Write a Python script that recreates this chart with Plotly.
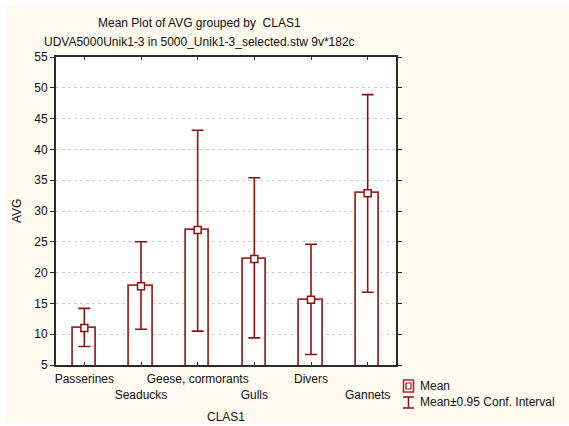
import plotly.graph_objects as go

categories = ["Passerines", "Seaducks", "Geese, cormorants", "Gulls", "Divers", "Gannets"]
means = [11.0, 17.8, 26.9, 22.2, 15.6, 32.9]
ci_lower = [8.0, 10.8, 10.5, 9.4, 6.7, 16.8]
ci_upper = [14.2, 25.0, 43.1, 35.4, 24.6, 48.9]
y_ticks = [5, 10, 15, 20, 25, 30, 35, 40, 45, 50, 55]

title_text = "Mean Plot of AVG grouped by  CLAS1"
subtitle_text = "UDVA5000Unik1-3 in 5000_Unik1-3_selected.stw 9v*182c"

W, H = 569, 426
ML, MR, MT, MB = 56, 173, 57, 61
PW = W - ML - MR
PH = H - MT - MB

def px(x):
    return (x - ML) / PW

def py(y):
    return (H - MB - y) / PH

DARK = "#8E1212"
EDGE = "#A42A2A"
FONT = "Liberation Sans, Arial, sans-serif"

xs = list(range(len(categories)))
ticktext = [c if i % 2 == 0 else "<br>" + c for i, c in enumerate(categories)]
err_plus = [u - m for u, m in zip(ci_upper, means)]
err_minus = [m - l for m, l in zip(means, ci_lower)]

fig = go.Figure()
fig.add_trace(go.Bar(
    x=xs, y=means, width=0.41,
    marker=dict(color="white", line=dict(color=EDGE, width=1.8)),
    showlegend=False, hoverinfo="skip",
))
fig.add_trace(go.Scatter(
    x=xs, y=means, mode="markers",
    marker=dict(symbol="square", size=7, color="white", line=dict(color=DARK, width=1.5)),
    error_y=dict(type="data", symmetric=False, array=err_plus, arrayminus=err_minus,
                 color=DARK, thickness=1.6, width=6),
    showlegend=False,
))

shapes = [
    dict(type="rect", xref="paper", yref="paper", x0=px(6), x1=px(W + 5), y0=py(424), y1=py(5),
         fillcolor="#FEFAEF", line=dict(width=0), layer="below"),
    dict(type="rect", xref="paper", yref="paper", x0=0, x1=1, y0=0, y1=1,
         fillcolor="white", line=dict(width=0), layer="below"),
    # legend glyphs
    dict(type="rect", xref="paper", yref="paper", x0=px(403.5), x1=px(413.5), y0=py(392), y1=py(380),
         fillcolor="white", line=dict(color=EDGE, width=1.6)),
    dict(type="rect", xref="paper", yref="paper", x0=px(406), x1=px(411), y0=py(389), y1=py(383),
         fillcolor="white", line=dict(color=DARK, width=1.2)),
    dict(type="line", xref="paper", yref="paper", x0=px(408.5), x1=px(408.5), y0=py(408), y1=py(397),
         line=dict(color=DARK, width=1.5)),
    dict(type="line", xref="paper", yref="paper", x0=px(403), x1=px(414), y0=py(397), y1=py(397),
         line=dict(color=DARK, width=1.5)),
    dict(type="line", xref="paper", yref="paper", x0=px(403), x1=px(414), y0=py(408), y1=py(408),
         line=dict(color=DARK, width=1.5)),
]

annotations = [
    dict(text=title_text, xref="paper", yref="paper", x=px(96), y=py(23), xanchor="left", yanchor="middle",
         showarrow=False, font=dict(size=12, color="#111", family=FONT)),
    dict(text=subtitle_text, xref="paper", yref="paper", x=px(42), y=py(42), xanchor="left", yanchor="middle",
         showarrow=False, font=dict(size=12, color="#111", family=FONT)),
    dict(text="Mean", xref="paper", yref="paper", x=px(418), y=py(386), xanchor="left", yanchor="middle",
         showarrow=False, font=dict(size=12, color="#111", family=FONT)),
    dict(text="Mean±0.95 Conf. Interval", xref="paper", yref="paper", x=px(418), y=py(402), xanchor="left",
         yanchor="middle", showarrow=False, font=dict(size=12, color="#111", family=FONT)),
    dict(text="CLAS1", xref="paper", yref="paper", x=0.5, y=py(417), xanchor="center", yanchor="middle",
         showarrow=False, font=dict(size=12, color="#111", family=FONT)),
    dict(text="AVG", xref="paper", yref="paper", x=px(17), y=0.5, xanchor="center", yanchor="middle",
         textangle=-90, showarrow=False, font=dict(size=12, color="#111", family=FONT)),
]

fig.update_layout(
    width=W, height=H,
    margin=dict(l=ML, r=MR, t=MT, b=MB, pad=0),
    paper_bgcolor="white", plot_bgcolor="white",
    font=dict(family=FONT, size=12, color="#111"),
    shapes=shapes, annotations=annotations,
    showlegend=False, bargap=0,
)
fig.update_xaxes(
    range=[-0.5, 5.5], tickmode="array", tickvals=xs, ticktext=ticktext,
    showgrid=False, zeroline=False, showline=True, linecolor="#2b2b2b", linewidth=2,
    mirror="ticks", ticks="inside", ticklen=3, tickcolor="#2b2b2b", tickwidth=1,
    tickangle=0, ticklabelstandoff=2,
)
fig.update_yaxes(
    range=[5, 55], tickmode="array", tickvals=y_ticks,
    showgrid=True, gridcolor="#CDCDCD", griddash="dot", gridwidth=1,
    zeroline=False, showline=True, linecolor="#2b2b2b", linewidth=2,
    mirror="ticks", ticks="outside", ticklen=4, tickcolor="#2b2b2b", tickwidth=1,
)

fig.write_html(
    "out.html",
    config={"displayModeBar": False},
    post_script="document.body.style.margin='0';document.body.style.overflow='hidden';",
)
